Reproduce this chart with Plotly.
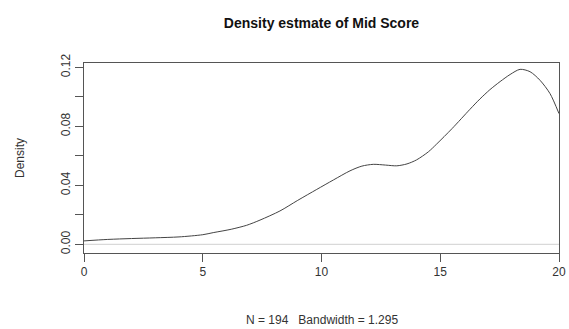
import plotly.graph_objects as go

# Density estimate values
mid_score = [0, 1, 2, 3, 4, 5, 5.44, 6.2, 6.85, 7.41, 8.25, 9.0, 9.8, 10.5, 11.2,
             11.7, 12.18, 12.7, 13.17, 13.6, 14.0, 14.5, 14.85, 15.5, 16.25, 16.67,
             17.09, 17.52, 17.94, 18.36, 18.78, 19.2, 19.62, 20]
density = [0.0023, 0.0033, 0.0039, 0.0044, 0.005, 0.0065, 0.0079, 0.0102, 0.0129,
           0.0164, 0.0226, 0.0298, 0.0372, 0.0436, 0.0498, 0.0530, 0.0542, 0.0537,
           0.0532, 0.0545, 0.0572, 0.0627, 0.0680, 0.0785, 0.0915, 0.0985, 0.1048,
           0.1103, 0.1151, 0.1186, 0.1170, 0.1112, 0.1022, 0.0886]

x_ticks = [0, 5, 10, 15, 20]
y_ticks = [0, 0.02, 0.04, 0.06, 0.08, 0.10, 0.12]
y_ticktext = ["0.00", "", "0.04", "", "0.08", "", "0.12"]

title_text = "Density estmate of Mid Score"
subtitle_text = "N = 194   Bandwidth = 1.295"
y_label = "Density"

FONT = "Liberation Sans, Arial, sans-serif"
AX = "#555555"

fig = go.Figure()
fig.add_trace(go.Scatter(x=[0, 20], y=[0, 0], mode="lines",
                         line=dict(color="#d0d0d0", width=1), hoverinfo="skip"))
fig.add_trace(go.Scatter(x=mid_score, y=density, mode="lines",
                         line=dict(color="#444444", width=1, shape="spline", smoothing=0.8)))

fig.update_layout(
    width=569, height=329,
    margin=dict(l=84, r=10, t=63, b=76, autoexpand=False),
    paper_bgcolor="white", plot_bgcolor="white",
    showlegend=False,
    font=dict(family=FONT, size=12, color="#333333"),
    title=dict(text="<b>" + title_text + "</b>", x=(84 + 559) / 2 / 569, xanchor="center",
               y=1 - 23 / 329, yanchor="middle",
               font=dict(family=FONT, size=14, color="#111111")),
)
fig.update_xaxes(range=[0, 20], tickvals=x_ticks, ticks="outside", ticklen=8,
                 tickcolor=AX, showline=True, linecolor=AX, linewidth=1, mirror=True,
                 showgrid=False, zeroline=False, automargin=False,
                 tickfont=dict(family=FONT, size=12, color="#333333"))
fig.update_yaxes(range=[-0.0059, 0.1229], tickvals=y_ticks, ticktext=y_ticktext,
                 ticks="outside", ticklen=8, tickangle=-90, automargin=False,
                 tickcolor=AX, showline=True, linecolor=AX, linewidth=1, mirror=True,
                 showgrid=False, zeroline=False,
                 tickfont=dict(family=FONT, size=12, color="#333333"))

fig.add_annotation(text=subtitle_text, xref="paper", yref="paper",
                   x=0.5, y=(252.7 - 320) / 190, xanchor="center", yanchor="middle",
                   showarrow=False, font=dict(family=FONT, size=12, color="#333333"))
fig.add_annotation(text=y_label, xref="paper", yref="paper",
                   x=(20 - 84) / 475, y=0.5, xanchor="center", yanchor="middle",
                   textangle=-90, showarrow=False,
                   font=dict(family=FONT, size=12, color="#333333"))

fig.write_html("out.html", config={"displayModeBar": False},
               post_script="document.body.style.margin='0';document.body.style.overflow='hidden';")
